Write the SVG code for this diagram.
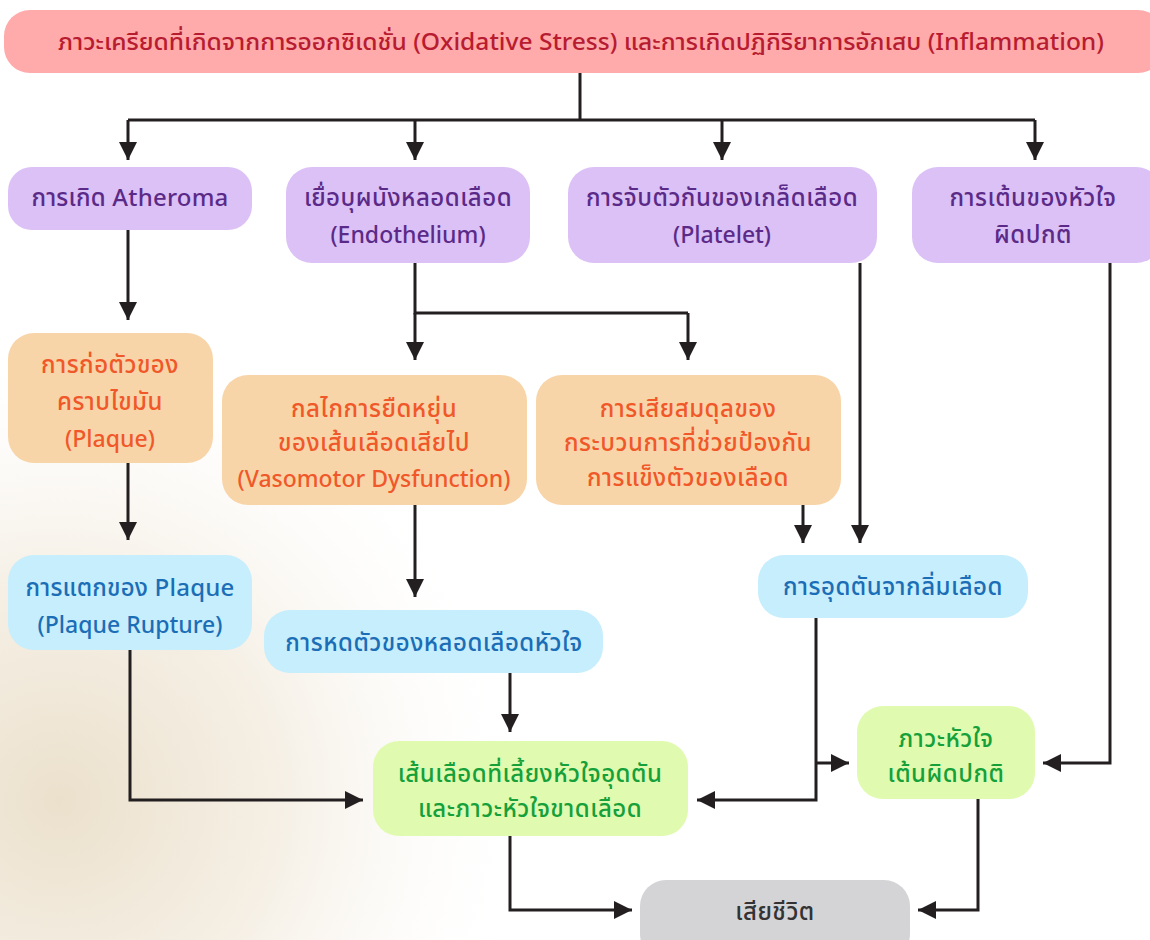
<svg xmlns="http://www.w3.org/2000/svg" width="1150" height="940" viewBox="0 0 1150 940">
<defs>
<radialGradient id="bg" cx="60" cy="800" r="480" gradientUnits="userSpaceOnUse">
<stop offset="0" stop-color="#e3d3b6" stop-opacity="0.7"/>
<stop offset="0.45" stop-color="#ebdfca" stop-opacity="0.5"/>
<stop offset="1" stop-color="#ffffff" stop-opacity="0"/>
</radialGradient>
<marker id="ah" viewBox="0 0 10 10" refX="10" refY="5" markerWidth="6" markerHeight="6" markerUnits="strokeWidth" orient="auto">
<path d="M0,0 L10,5 L0,10 Z" fill="#231f20"/>
</marker>
<style>
.t{font-family:"Noto Sans Thai","Noto Sans","Liberation Sans",sans-serif;font-size:24px;font-weight:500;letter-spacing:0.5px;text-anchor:middle;dominant-baseline:central}
.t.e{font-size:23px;letter-spacing:0}
.pu rect{fill:#dcc1f6}.pu text{fill:#5b2a88}
.or rect{fill:#f8d5a8}.or text{fill:#f0582a}
.bl rect{fill:#c6eefc}.bl text{fill:#1b6db6}
.gr rect{fill:#e0fbb0}.gr text{fill:#15a03a}
.gy rect{fill:#d4d4d6}.gy text{fill:#333333}
.c path{fill:none;stroke:#231f20;stroke-width:3;marker-end:url(#ah)}
.c path.n{marker-end:none}
</style>
</defs>
<rect width="1150" height="940" fill="#ffffff"/>
<rect width="1150" height="940" fill="url(#bg)"/>

<g id="top">
<rect x="4" y="10" width="1160" height="63" rx="26" fill="#ffaaab"/>
<text class="t" x="581" y="43" fill="#b71c30" style="font-size:23.5px;letter-spacing:0" textLength="1046" lengthAdjust="spacingAndGlyphs">ภาวะเครียดที่เกิดจากการออกซิเดชั่น (Oxidative Stress) และการเกิดปฏิกิริยาการอักเสบ (Inflammation)</text>
</g>

<g id="connectors" class="c">
<path class="n" d="M580,73 V120 M128,120 H1035"/>
<path d="M128,120 V160"/>
<path d="M415,120 V160"/>
<path d="M722,120 V160"/>
<path d="M1035,120 V160"/>
<path d="M128,230 V320"/>
<path class="n" d="M415,263 V313 H688"/>
<path d="M415,313 V360"/>
<path d="M688,313 V360"/>
<path d="M128,463 V540"/>
<path d="M415,505 V597"/>
<path d="M803,505 V543"/>
<path d="M860,263 V543"/>
<path d="M130,650 V800 H363"/>
<path d="M510,673 V732"/>
<path d="M816,618 V800 H697"/>
<path d="M816,763 H849"/>
<path d="M1110,263 V763 H1043"/>
<path d="M510,836 V910 H632"/>
<path d="M978,799 V910 H918"/>
</g>

<g id="atheroma" class="pu">
<rect x="8" y="167" width="244" height="63" rx="24"/>
<text class="t" x="130" y="199" style="letter-spacing:0.2px">การเกิด Atheroma</text>
</g>
<g id="endothelium" class="pu">
<rect x="286" y="167" width="244" height="96" rx="26"/>
<text class="t" x="408" y="199">เยื่อบุผนังหลอดเลือด</text>
<text class="t e" x="408" y="236">(Endothelium)</text>
</g>
<g id="platelet" class="pu">
<rect x="568" y="167" width="309" height="96" rx="26"/>
<text class="t" x="722" y="199">การจับตัวกันของเกล็ดเลือด</text>
<text class="t e" x="722" y="236">(Platelet)</text>
</g>
<g id="arrhythmia-cause" class="pu">
<rect x="912" y="167" width="250" height="96" rx="26"/>
<text class="t" x="1033" y="199">การเต้นของหัวใจ</text>
<text class="t" x="1033" y="236">ผิดปกติ</text>
</g>

<g id="plaque" class="or">
<rect x="8" y="333" width="205" height="130" rx="26"/>
<text class="t" x="110" y="366">การก่อตัวของ</text>
<text class="t" x="110" y="403">คราบไขมัน</text>
<text class="t e" x="110" y="440">(Plaque)</text>
</g>
<g id="vasomotor" class="or">
<rect x="222" y="375" width="305" height="130" rx="26"/>
<text class="t" x="374" y="410">กลไกการยืดหยุ่น</text>
<text class="t" x="374" y="444">ของเส้นเลือดเสียไป</text>
<text class="t e" x="374" y="480">(Vasomotor Dysfunction)</text>
</g>
<g id="anticoag" class="or">
<rect x="536" y="375" width="305" height="130" rx="26"/>
<text class="t" x="688" y="410">การเสียสมดุลของ</text>
<text class="t" x="688" y="444">กระบวนการที่ช่วยป้องกัน</text>
<text class="t" x="688" y="479">การแข็งตัวของเลือด</text>
</g>

<g id="rupture" class="bl">
<rect x="8" y="555" width="244" height="95" rx="26"/>
<text class="t" x="130" y="589" style="letter-spacing:0.2px">การแตกของ Plaque</text>
<text class="t e" x="130" y="626">(Plaque Rupture)</text>
</g>
<g id="spasm" class="bl">
<rect x="264" y="610" width="339" height="63" rx="26"/>
<text class="t" x="434" y="644">การหดตัวของหลอดเลือดหัวใจ</text>
</g>
<g id="thrombus" class="bl">
<rect x="758" y="555" width="270" height="63" rx="26"/>
<text class="t" x="893" y="588">การอุดตันจากลิ่มเลือด</text>
</g>

<g id="ischemia" class="gr">
<rect x="373" y="741" width="315" height="95" rx="26"/>
<text class="t" x="530" y="775">เส้นเลือดที่เลี้ยงหัวใจอุดตัน</text>
<text class="t" x="530" y="810">และภาวะหัวใจขาดเลือด</text>
</g>
<g id="arrhythmia" class="gr">
<rect x="857" y="706" width="178" height="93" rx="26"/>
<text class="t" x="946" y="740">ภาวะหัวใจ</text>
<text class="t" x="946" y="775">เต้นผิดปกติ</text>
</g>
<g id="death" class="gy">
<rect x="640" y="880" width="270" height="80" rx="26"/>
<text class="t" x="775" y="913">เสียชีวิต</text>
</g>
</svg>
